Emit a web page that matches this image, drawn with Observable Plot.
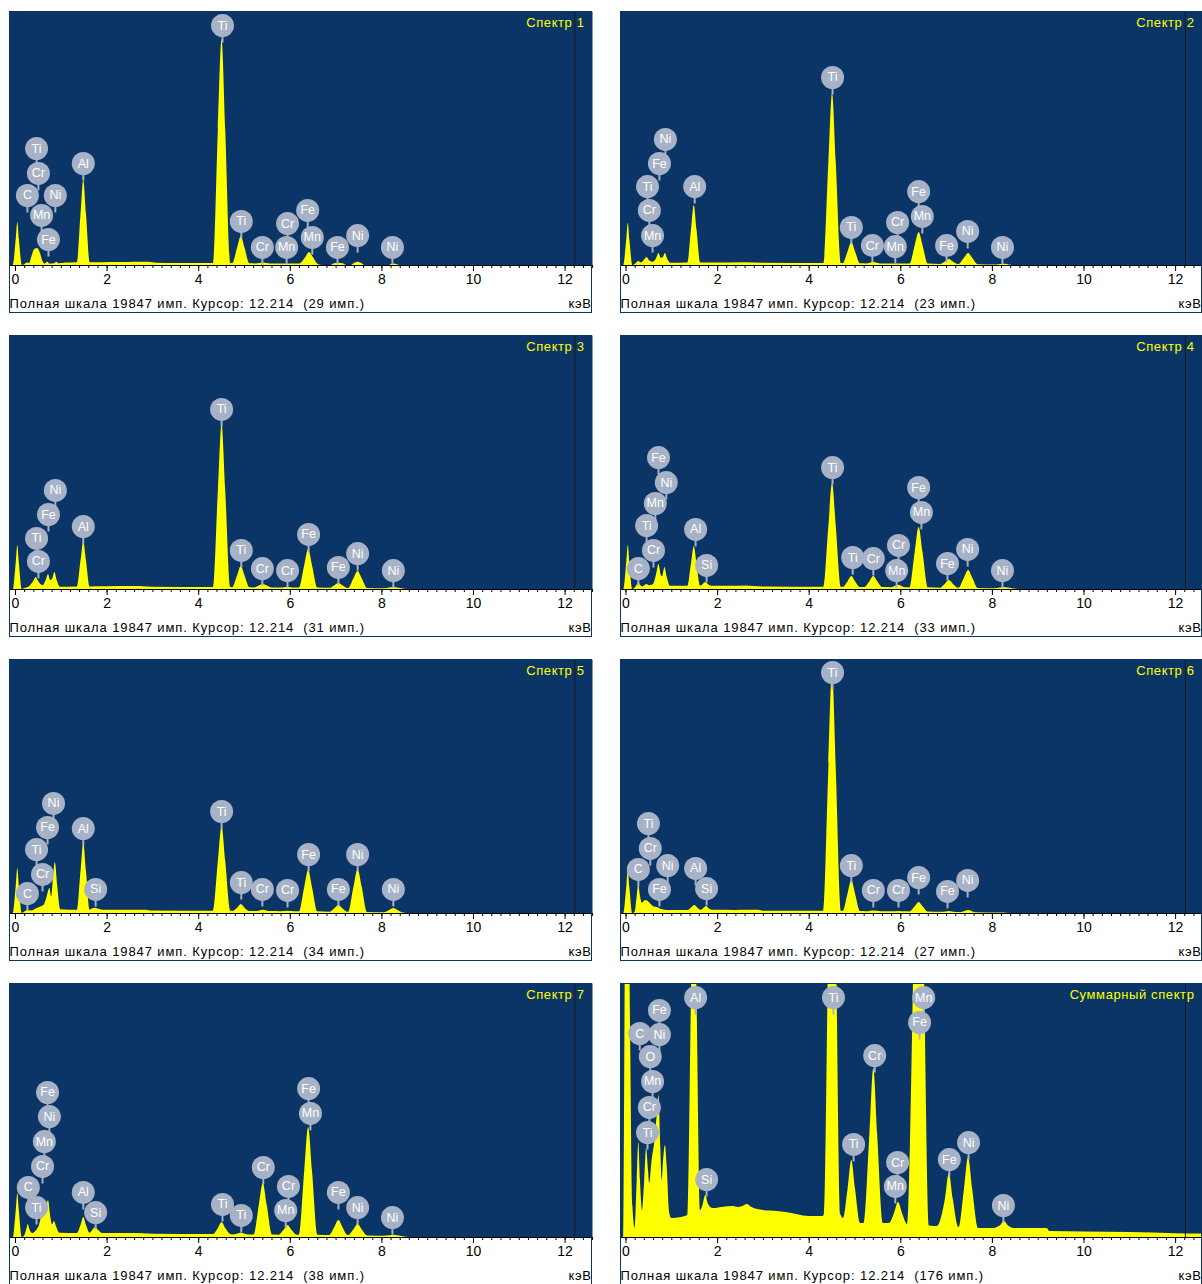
<!DOCTYPE html>
<html><head><meta charset="utf-8">
<script src="https://cdn.jsdelivr.net/npm/d3@7"></script>
<script src="https://cdn.jsdelivr.net/npm/@observablehq/plot@0.6"></script>
<style>
html,body{margin:0;padding:0;background:#fff;overflow:hidden}
body{width:1202px;height:1284px;position:relative;font-family:"Liberation Sans",Arial,sans-serif}
</style></head><body>
<script>
// ---------- data ----------
const titles = ["Спектр 1","Спектр 2","Спектр 3","Спектр 4","Спектр 5","Спектр 6","Спектр 7","Суммарный спектр"];
const cursorCounts = [29, 23, 31, 33, 34, 27, 38, 176];
const fullScale = 19847;
const cursorKeV = 12.214;
const unitLabel = "кэВ";
const majorTicks = [0, 2, 4, 6, 8, 10, 12];
const minorTicks = d3.range(0, 12.61, 0.2);

// spectra: [keV, counts]
const spec1 = [[-0.13,0],[-0.05,0],[0.015,2020],[0.05,3360],[0.085,2020],[0.15,0],
[0.2,60],[0.26,200],[0.31,150],[0.36,700],[0.42,1250],[0.48,1330],[0.54,1000],[0.6,300],[0.65,120],
[0.7,250],[0.75,120],[0.85,140],[0.9,250],[0.95,140],
[1.1,200],[1.35,220],[1.43,4000],[1.49,6640],[1.55,4000],[1.63,220],
[1.9,220],[2.3,230],[2.6,260],[2.9,250],[3.1,180],[3.6,160],[4.0,150],[4.32,150],
[4.43,10600],[4.51,17650],[4.59,10600],[4.7,150],[4.74,140],[4.85,1360],[4.93,2270],[5.01,1360],[5.12,130],
[5.25,120],[5.41,200],[5.57,120],[6.2,110],[6.335,610],[6.42,1020],[6.505,610],[6.62,60],[6.7,0],
[6.9,0],[6.95,120],[7.06,180],[7.17,120],[7.22,0],[7.33,0],[7.4,150],[7.48,250],[7.56,150],[7.63,0],
[8.15,0],[8.2,60],[8.27,90],[8.34,60],[8.4,0],[12.6,0]];
const spec2 = [[-0.12,0],[-0.05,0],[0.015,1980],[0.05,3300],[0.085,1980],[0.15,0],
[0.2,80],[0.28,310],[0.34,200],[0.41,450],[0.46,620],[0.52,350],[0.6,250],[0.67,560],[0.72,940],[0.77,560],[0.81,600],[0.86,940],[0.91,480],[0.98,180],
[1.35,200],[1.43,2810],[1.49,4690],[1.55,2810],[1.63,200],
[2.0,200],[2.6,220],[3.0,170],[4.32,150],
[4.43,8060],[4.51,13430],[4.59,8060],[4.7,150],[4.74,140],[4.85,1080],[4.93,1800],[5.01,1080],[5.12,130],
[5.25,120],[5.41,230],[5.57,120],[6.2,110],[6.315,1550],[6.4,2580],[6.485,1550],[6.6,110],
[6.86,80],[6.975,280],[7.06,470],[7.145,280],[7.26,80],[7.27,80],[7.39,560],[7.48,940],[7.57,560],[7.69,60],
[8.1,40],[8.26,90],[8.4,20],[8.5,0],[12.6,0]];
const spec3 = [[-0.13,0],[-0.05,0],[0.015,2060],[0.05,3440],[0.085,2060],[0.15,0],
[0.2,80],[0.3,200],[0.4,650],[0.45,940],[0.5,650],[0.6,300],[0.67,700],[0.72,1170],[0.77,700],[0.81,800],[0.86,1330],[0.91,700],[0.98,180],
[1.35,200],[1.43,2220],[1.49,3700],[1.55,2220],[1.63,200],
[2.0,210],[2.6,230],[3.0,170],[4.32,150],
[4.43,7740],[4.51,12900],[4.59,7740],[4.7,150],[4.74,140],[4.85,1080],[4.93,1800],[5.01,1080],[5.12,130],
[5.21,120],[5.325,280],[5.41,390],[5.495,280],[5.61,120],[5.8,110],[5.95,180],[6.1,110],
[6.2,110],[6.315,1860],[6.4,3100],[6.485,1860],[6.6,110],
[6.86,90],[6.975,300],[7.06,470],[7.145,300],[7.26,80],[7.27,80],[7.39,840],[7.48,1400],[7.57,840],[7.69,70],
[8.05,50],[8.17,110],[8.26,160],[8.35,110],[8.47,30],[8.55,0],[12.6,0]];
const spec4 = [[-0.12,0],[-0.05,0],[0.015,2060],[0.05,3440],[0.085,2060],[0.15,0],
[0.2,120],[0.245,360],[0.28,550],[0.315,360],[0.37,200],[0.45,390],[0.52,300],[0.6,400],[0.67,1200],[0.72,1950],[0.77,1100],[0.8,1000],[0.85,1720],[0.9,950],[0.97,250],
[1.35,250],[1.43,2020],[1.49,3360],[1.55,2020],[1.63,260],[1.68,380],[1.74,540],[1.8,380],[1.88,250],
[2.4,250],[2.6,270],[3.0,200],[4.32,180],
[4.43,4970],[4.51,8280],[4.59,4970],[4.7,170],[4.74,160],[4.85,610],[4.93,1015],[5.01,610],[5.12,150],
[5.21,150],[5.325,610],[5.41,1015],[5.495,610],[5.61,150],[5.8,140],[5.95,330],[6.1,140],
[6.2,130],[6.315,2900],[6.4,4840],[6.485,2900],[6.6,130],
[6.86,100],[6.975,420],[7.06,700],[7.145,420],[7.26,100],[7.27,100],[7.39,890],[7.48,1480],[7.57,890],[7.69,80],
[8.05,60],[8.17,110],[8.26,160],[8.35,110],[8.47,40],[8.6,0],[12.6,0]];
const spec5 = [[-0.13,0],[-0.05,0],[0.015,2100],[0.05,3510],[0.085,2100],[0.15,0],
[0.2,120],[0.28,230],[0.36,200],[0.45,350],[0.55,500],[0.62,620],[0.68,1150],[0.75,1950],[0.79,1300],[0.82,2300],[0.87,3980],[0.92,2200],[0.99,300],
[1.35,250],[1.43,3280],[1.49,5470],[1.55,3280],[1.63,260],[1.68,350],[1.75,420],[1.82,330],[1.9,260],
[2.4,250],[2.8,260],[3.0,200],[4.32,180],
[4.43,4080],[4.51,6800],[4.59,4080],[4.7,170],[4.74,160],[4.85,420],[4.93,700],[5.01,420],[5.12,150],
[5.25,150],[5.41,260],[5.57,150],[5.8,140],[5.95,180],[6.1,140],
[6.2,130],[6.315,2020],[6.4,3360],[6.485,2020],[6.6,130],
[6.86,100],[6.975,380],[7.06,625],[7.145,380],[7.26,100],[7.27,100],[7.39,2060],[7.48,3440],[7.57,2060],[7.69,80],
[8.05,60],[8.17,240],[8.26,390],[8.35,240],[8.47,40],[8.6,0],[12.6,0]];
const spec6 = [[-0.12,0],[-0.05,0],[0.015,2020],[0.05,3360],[0.085,2020],[0.15,0],
[0.2,100],[0.245,1360],[0.28,2260],[0.315,1360],[0.36,800],[0.42,1015],[0.48,950],[0.55,700],[0.62,500],[0.7,450],[0.76,330],[0.85,260],[0.95,230],
[1.35,230],[1.44,450],[1.5,620],[1.56,450],[1.64,250],[1.7,400],[1.76,540],[1.82,350],[1.9,250],
[2.4,240],[2.6,250],[2.9,250],[3.0,180],[4.32,170],
[4.43,11340],[4.51,18900],[4.59,11340],[4.7,170],[4.74,160],[4.85,1550],[4.93,2580],[5.01,1550],[5.12,150],
[5.25,140],[5.41,200],[5.57,140],[5.8,130],[5.95,160],[6.1,130],
[6.2,120],[6.315,520],[6.4,860],[6.485,520],[6.6,110],
[6.9,90],[7.06,160],[7.2,80],[7.33,80],[7.48,230],[7.63,60],[8.2,40],[8.3,20],[8.45,0],[12.6,0]];
const spec7 = [[-0.13,0],[-0.05,0],[0.015,2060],[0.05,3440],[0.085,2060],[0.15,0],
[0.2,120],[0.245,600],[0.28,1015],[0.315,600],[0.38,300],[0.45,500],[0.52,900],[0.6,1870],[0.65,1750],[0.72,2890],[0.77,1600],[0.81,1000],[0.85,1250],[0.9,800],[0.97,330],
[1.35,310],[1.43,940],[1.49,1560],[1.55,940],[1.63,330],[1.68,520],[1.75,780],[1.82,520],[1.9,320],
[2.6,310],[3.0,260],[4.32,230],
[4.43,700],[4.51,1170],[4.59,700],[4.7,230],[4.74,200],[4.85,260],[4.93,330],[5.01,260],[5.12,190],
[5.21,190],[5.325,2530],[5.41,4220],[5.495,2530],[5.61,190],[5.75,180],[5.865,560],[5.95,940],[6.035,560],[6.15,180],
[6.2,180],[6.315,5150],[6.4,8590],[6.485,5150],[6.6,180],
[6.86,160],[6.975,800],[7.06,1330],[7.145,800],[7.26,150],[7.27,150],[7.39,610],[7.48,1015],[7.57,610],[7.69,120],
[8.05,100],[8.17,130],[8.26,180],[8.35,130],[8.47,60],[8.6,0],[12.6,0]];
const specSum = [[-0.12,0],[-0.05,0],[-0.01,24000],[0.05,32000],[0.1,16000],[0.15,2500],[0.2,700],
[0.245,4500],[0.28,7420],[0.315,4500],[0.36,2100],
[0.41,4500],[0.45,6950],[0.49,5300],[0.52,4200],
[0.57,6000],[0.63,7500],[0.68,9500],[0.72,11090],[0.76,7000],[0.79,4450],
[0.82,6000],[0.86,7190],[0.9,5500],[0.95,2000],[1.0,1480],
[1.2,1560],[1.35,1720],[1.43,19000],[1.49,32000],[1.55,19000],[1.63,2110],
[1.68,2500],[1.74,3280],[1.8,2600],[1.9,2260],[2.1,2340],[2.35,2420],[2.45,2350],[2.55,2420],[2.65,2580],[2.75,2340],[3.0,2110],[3.3,2030],[3.5,1950],[4.0,1640],[4.3,1640],
[4.33,1800],[4.43,24000],[4.51,40000],[4.59,24000],[4.69,1800],[4.75,1480],
[4.85,3800],[4.93,6010],[5.01,3800],[5.12,1090],[5.2,1090],
[5.325,8000],[5.41,13200],[5.495,8000],[5.62,1090],[5.75,1090],
[5.865,1900],[5.95,2730],[6.035,1900],[6.15,1000],
[6.3,24000],[6.4,40000],[6.5,24000],[6.63,900],[6.8,860],
[6.975,3000],[7.06,5000],[7.145,3000],[7.27,780],
[7.39,3750],[7.48,6250],[7.57,3750],[7.7,700],
[8.0,700],[8.17,900],[8.26,1250],[8.35,900],[8.5,700],[9.2,700],[9.25,470],[10,430],[11,390],[12,300],[12.59,280]];

// element labels: [element, keV, counts]
const labels1 = [["Ti",4.52,18750],["Ti",0.46,9140],["Cr",0.50,7190],["C",0.26,5470],["Ni",0.87,5470],["Mn",0.57,3910],["Fe",0.72,2030],["Al",1.48,7970],["Ti",4.93,3440],["Cr",5.39,1410],["Cr",5.94,3280],["Mn",5.92,1410],["Fe",6.38,4300],["Mn",6.48,2190],["Fe",7.03,1410],["Ni",7.47,2340],["Ni",8.23,1410]];
const labels2 = [["Ti",4.51,14690],["Ni",0.86,9850],["Fe",0.73,7970],["Ti",0.47,6170],["Cr",0.51,4300],["Mn",0.58,2340],["Al",1.50,6170],["Ti",4.92,2970],["Cr",5.38,1560],["Cr",5.93,3360],["Mn",5.88,1480],["Fe",6.39,5780],["Mn",6.47,3830],["Fe",7.00,1560],["Ni",7.46,2660],["Ni",8.22,1410]];
const labels3 = [["Ti",4.50,14070],["Ni",0.87,7740],["Fe",0.72,5860],["Ti",0.46,3990],["Cr",0.50,2190],["Al",1.48,4920],["Ti",4.93,3050],["Cr",5.39,1640],["Cr",5.94,1480],["Fe",6.40,4300],["Fe",7.05,1720],["Ni",7.47,2810],["Ni",8.25,1480]];
const labels4 = [["Ti",4.51,9530],["Fe",0.71,10310],["Ni",0.88,8360],["Mn",0.64,6720],["Ti",0.45,5000],["Cr",0.60,3050],["C",0.27,1640],["Al",1.52,4690],["Si",1.76,1880],["Ti",4.95,2500],["Cr",5.40,2420],["Cr",5.95,3440],["Mn",5.91,1480],["Fe",6.39,7970],["Mn",6.45,6020],["Fe",7.02,2030],["Ni",7.46,3130],["Ni",8.22,1480]];
const labels5 = [["Ti",4.50,7970],["Ni",0.83,8600],["Fe",0.70,6720],["Ti",0.46,5000],["Cr",0.59,3050],["C",0.26,1560],["Al",1.48,6640],["Si",1.75,1880],["Ti",4.93,2420],["Cr",5.39,1880],["Cr",5.94,1800],["Fe",6.40,4610],["Fe",7.05,1880],["Ni",7.47,4610],["Ni",8.25,1880]];
const labels6 = [["Ti",4.51,18830],["Ti",0.49,7030],["Cr",0.53,5080],["C",0.27,3440],["Ni",0.91,3750],["Fe",0.73,1880],["Al",1.52,3520],["Si",1.76,1950],["Ti",4.92,3750],["Cr",5.40,1800],["Cr",5.95,1800],["Fe",6.39,2810],["Fe",7.02,1720],["Ni",7.46,2580]];
const labels7 = [["Fe",0.70,11330],["Ni",0.74,9450],["Mn",0.63,7500],["Cr",0.59,5550],["C",0.28,3910],["Ti",0.46,2340],["Al",1.48,3520],["Si",1.75,1950],["Ti",4.52,2580],["Ti",4.93,1720],["Cr",5.41,5470],["Cr",5.96,3990],["Mn",5.90,2110],["Fe",6.40,11640],["Mn",6.44,9690],["Fe",7.05,3520],["Ni",7.47,2340],["Ni",8.23,1560]];
const labelsSum = [["Al",1.52,18750],["Fe",0.73,17740],["C",0.30,15940],["Ni",0.73,15860],["O",0.53,14140],["Mn",0.58,12190],["Cr",0.51,10160],["Ti",0.47,8200],["Si",1.76,4530],["Ti",4.53,18750],["Cr",5.43,14220],["Ti",4.97,7270],["Cr",5.93,5860],["Mn",5.88,3990],["Mn",6.50,18750],["Fe",6.41,16800],["Fe",7.06,6090],["Ni",7.48,7420],["Ni",8.24,2500]];

const spectra = [spec1, spec2, spec3, spec4, spec5, spec6, spec7, specSum];
const labelSets = [labels1, labels2, labels3, labels4, labels5, labels6, labels7, labelsSum];

// ---------- style ----------
const BLUE = "#0a3566";
const YELLOW = "#ffff00";
const BUBBLE = "#a7b2c6";
const FONT = "'Liberation Sans', Arial, sans-serif";
const PX_PER_KEV = 45.8;

const stemSymbol = {draw(ctx) { ctx.moveTo(0, 0); ctx.lineTo(0, 17); }};

spectra.forEach((spec, i) => {
  const col = i % 2, row = Math.floor(i / 2);
  const left = col ? 620 : 9;
  const top = 11 + row * 324;
  const width = col ? 582 : 583;
  const x0 = col ? 5.5 : 6;
  const labels = labelSets[i];
  const caption = `Полная шкала ${fullScale} имп. Курсор: ${cursorKeV.toFixed(3)}\u00a0 (${cursorCounts[i]} имп.)`;
  const chart = Plot.plot({
    width, height: 302,
    marginTop: 0, marginRight: 0, marginBottom: 48, marginLeft: 0,
    style: {background: "#fff", fontFamily: FONT, fontSize: "13px", overflow: "visible"},
    x: {domain: [-x0 / PX_PER_KEV, (width - x0) / PX_PER_KEV]},
    y: {domain: [0, fullScale], axis: null},
    marks: [
      Plot.frame({fill: BLUE}),
      Plot.areaY(spec, {x: d => d[0], y: d => d[1], fill: YELLOW, curve: "monotone-x", clip: true}),
      Plot.ruleX([cursorKeV], {stroke: "#1a1a1a", strokeWidth: 1}),
      Plot.ruleY([0], {stroke: "#000"}),
      Plot.axisX({ticks: minorTicks, tickSize: 3, tickFormat: () => "", stroke: "#000"}),
      Plot.axisX({ticks: majorTicks, tickSize: 6, tickPadding: 3, fontSize: 14, stroke: "#000", fill: "#000"}),
      Plot.dot(labels, {x: d => d[1], y: d => d[2], symbol: stemSymbol, fill: "none", stroke: BUBBLE, strokeWidth: 2}),
      Plot.dot(labels, {x: d => d[1], y: d => d[2], r: 11.5, fill: BUBBLE, stroke: "none"}),
      Plot.text(labels, {x: d => d[1], y: d => d[2], text: d => d[0], fill: "#fff", fontSize: 12.5}),
      Plot.text([titles[i]], {text: d => d, frameAnchor: "top-right", textAnchor: "end", lineAnchor: "middle", dx: -8, dy: 11, fill: YELLOW, fontSize: 13}),
      Plot.text([caption], {text: d => d, frameAnchor: "bottom-left", textAnchor: "start", lineAnchor: "middle", dx: 0, dy: 38, fill: "#000", fontSize: 13}),
      Plot.text([unitLabel], {text: d => d, frameAnchor: "bottom-right", textAnchor: "end", lineAnchor: "middle", dx: -1, dy: 38, fill: "#000", fontSize: 13})
    ]
  });
  chart.querySelectorAll("text").forEach(t => {
    const s = t.textContent;
    if (s.startsWith("Полная")) t.setAttribute("letter-spacing", "0.9");
    else if (titles.includes(s)) t.setAttribute("letter-spacing", "0.6");
    else if (s === unitLabel) t.setAttribute("letter-spacing", "0.6");
  });
  chart.style.position = "absolute";
  chart.style.left = left + "px";
  chart.style.top = top + "px";
  chart.style.outline = "1px solid " + BLUE;
  chart.style.outlineOffset = "-1px";
  document.body.appendChild(chart);
});
</script>
</body></html>
